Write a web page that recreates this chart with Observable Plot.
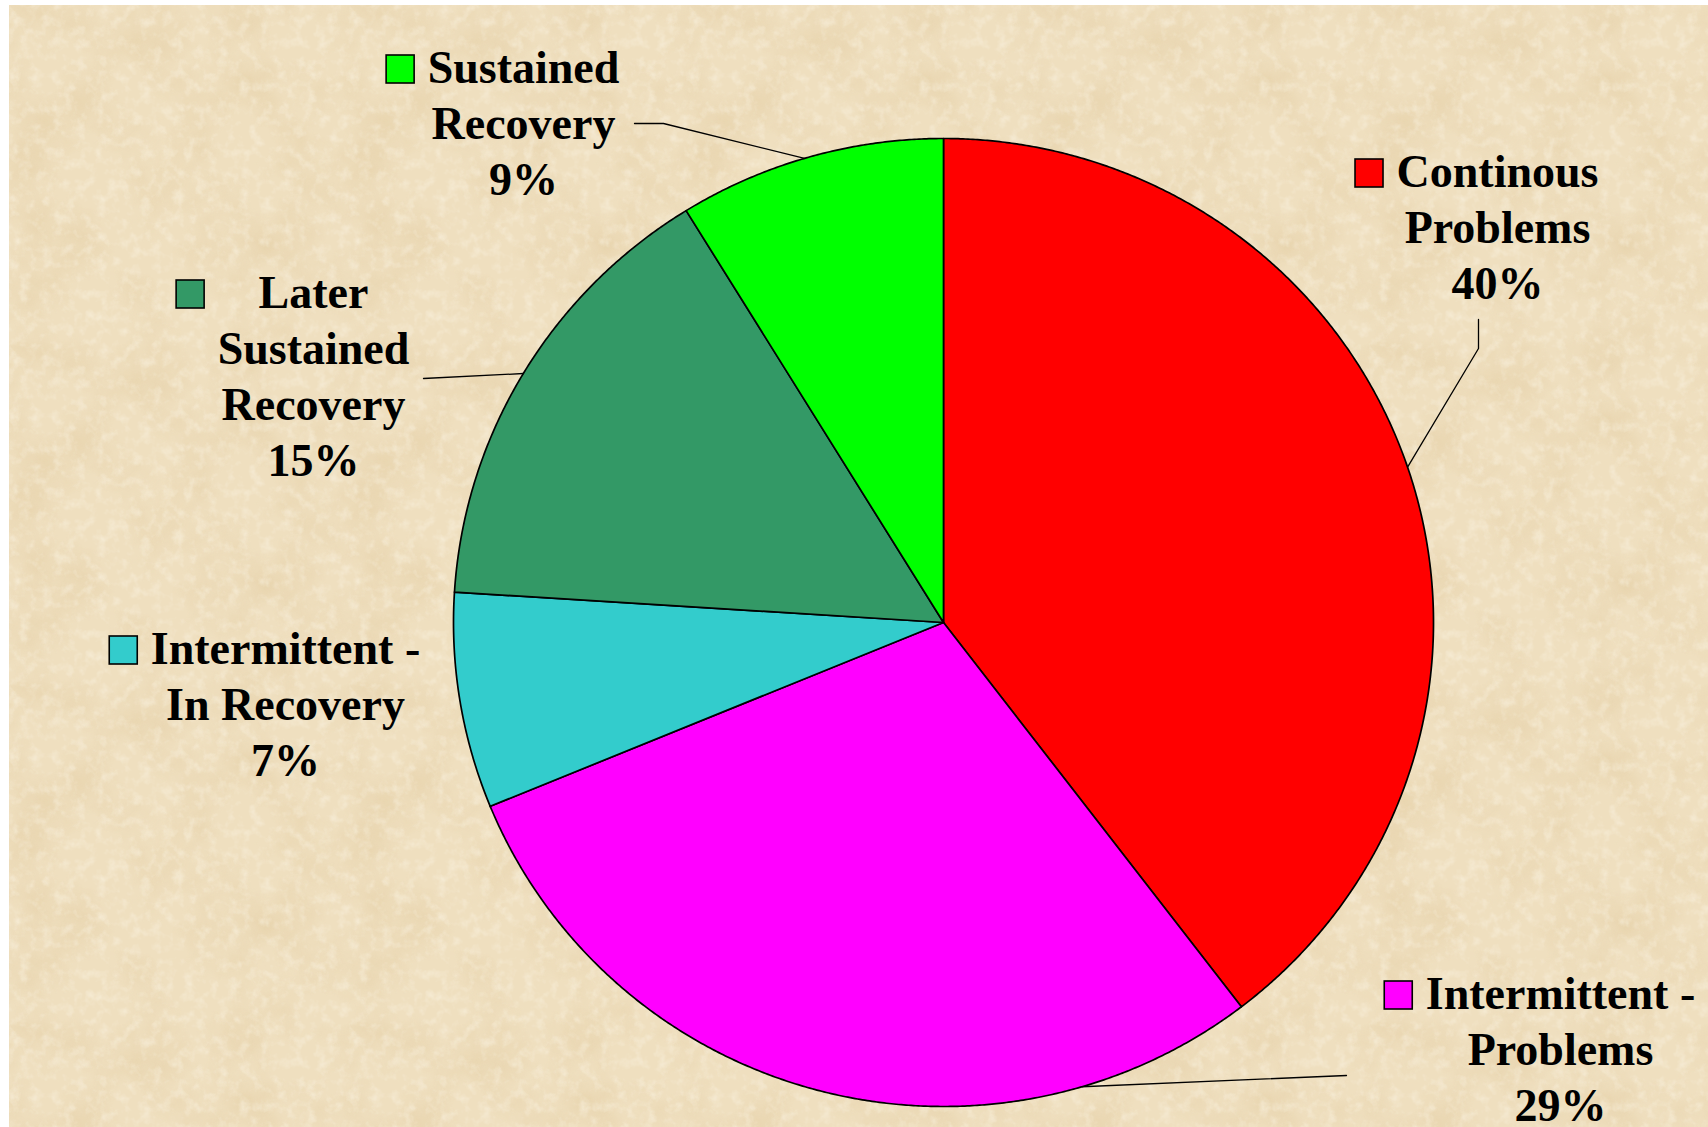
<!DOCTYPE html>
<html>
<head>
<meta charset="utf-8">
<script src="https://cdn.jsdelivr.net/npm/d3@7"></script>
<script src="https://cdn.jsdelivr.net/npm/@observablehq/plot@0.6"></script>
<style>
  html, body { margin: 0; padding: 0; background: #ffffff; }
  #wrap { position: relative; width: 1708px; height: 1127px; overflow: hidden; }
  #bg {
    position: absolute; left: 9px; top: 5px; right: 0; bottom: 0;
    background-color: #EFDFBF;
    background-image: url("data:image/svg+xml;utf8,<svg xmlns='http://www.w3.org/2000/svg' width='340' height='340'><filter id='n' x='0' y='0' width='100%' height='100%'><feTurbulence type='fractalNoise' baseFrequency='0.016' numOctaves='5' seed='7' stitchTiles='stitch'/><feColorMatrix type='matrix' values='0 0 0 0 0.80  0 0 0 0 0.65  0 0 0 0 0.41  2.4 0 0 0 -1.0'/></filter><filter id='m' x='0' y='0' width='100%' height='100%'><feTurbulence type='fractalNoise' baseFrequency='0.09' numOctaves='3' seed='3' stitchTiles='stitch'/><feColorMatrix type='matrix' values='0 0 0 0 1  0 0 0 0 0.97  0 0 0 0 0.88  2.0 0 0 0 -0.95'/></filter><rect width='100%' height='100%' filter='url(%23n)' opacity='0.8'/><rect width='100%' height='100%' filter='url(%23m)' opacity='0.45'/></svg>");
  }
  #chart { position: absolute; left: 0; top: 0; }
</style>
</head>
<body>
<div id="wrap"><div id="bg"></div><div id="chart"></div></div>
<script>
// ---- data ----
const categories = ["Continous Problems", "Intermittent - Problems", "Intermittent - In Recovery", "Later Sustained Recovery", "Sustained Recovery"];
const shares = [39.6, 29.2, 7.2, 15.2, 8.8];
const colors = ["#FF0000", "#FF00FF", "#33CCCC", "#339966", "#00FF00"];
const labelLines = [["Continous", "Problems"], ["Intermittent -", "Problems"], ["Intermittent -", "In Recovery"], ["Later", "Sustained", "Recovery"], ["Sustained", "Recovery"]];

// ---- layout (pixel space of the slide) ----
const W = 1708, H = 1127;
const pie = {cx: 943, cy: 622, rx: 490, ry: 484};
const fontSize = 46, lineStep = 56, keySize = 28, keyGap = 13;
const labelLayout = [
  {cx: 1497, baseline: 186, elbow: [[1478, 319], [1478, 348]], anchor: 0.5},
  {cx: 1560, baseline: 1008, elbow: [[1346, 1075]], anchor: 0.2},
  {cx: 285, baseline: 663, elbow: null, anchor: 0.5},
  {cx: 313, baseline: 307, elbow: [[423, 378]], anchor: 0.5},
  {cx: 523, baseline: 82, elbow: [[634, 123], [663, 123]], anchor: 0.48}
];

const font = `bold ${fontSize}px "Liberation Serif"`;
const ctx = document.createElement("canvas").getContext("2d");
ctx.font = font;

const arcs = d3.pie().sort(null).value(d => d)(shares);
const toXY = a => [pie.cx + pie.rx * Math.sin(a), pie.cy - pie.ry * Math.cos(a)];

// slice polygons
const slicePts = [];
arcs.forEach((a, i) => {
  const name = categories[i];
  slicePts.push({name, x: pie.cx, y: pie.cy});
  const n = Math.max(8, Math.ceil((a.endAngle - a.startAngle) / 0.005));
  for (let k = 0; k <= n; k++) {
    const t = a.startAngle + (a.endAngle - a.startAngle) * k / n;
    const [x, y] = toXY(t);
    slicePts.push({name, x, y});
  }
});

// leader lines
const leaderPts = [];
labelLayout.forEach((L, i) => {
  if (!L.elbow) return;
  const a = arcs[i];
  const t = a.startAngle + (a.endAngle - a.startAngle) * L.anchor;
  const [x, y] = toXY(t);
  L.elbow.forEach(([ex, ey]) => leaderPts.push({name: categories[i], x: ex, y: ey}));
  leaderPts.push({name: categories[i], x, y});
});

// labels and keys
const labels = labelLayout.map((L, i) => {
  const lines = [...labelLines[i], Math.round(shares[i]) + "%"];
  const maxW = d3.max(lines, s => ctx.measureText(s).width);
  return {
    name: categories[i],
    text: lines.join("\n"),
    x: L.cx,
    y: L.baseline - 0.71 * fontSize - 7,
    kx2: L.cx - maxW / 2 - keyGap,
    kx1: L.cx - maxW / 2 - keyGap - keySize,
    ky2: L.baseline + 1,
    ky1: L.baseline + 1 - keySize
  };
});

const chart = Plot.plot({
  width: W, height: H,
  margin: 0,
  style: {background: "transparent", fontFamily: '"Liberation Serif", "Times New Roman", serif'},
  x: {domain: [0, W], range: [0, W], axis: null},
  y: {domain: [0, H], range: [0, H], axis: null},
  color: {domain: categories, range: colors},
  marks: [
    Plot.line(slicePts, {x: "x", y: "y", z: "name", fill: "name", stroke: "#000", strokeWidth: 1.7, curve: "linear-closed", strokeLinejoin: "round"}),
    Plot.line(leaderPts, {x: "x", y: "y", z: "name", stroke: "#000", strokeWidth: 1.3}),
    Plot.rect(labels, {x1: "kx1", x2: "kx2", y1: "ky1", y2: "ky2", fill: "name", stroke: "#000", strokeWidth: 1.6}),
    Plot.text(labels, {x: "x", y: "y", text: "text", textAnchor: "middle", lineAnchor: "top", lineHeight: lineStep / fontSize, fontSize, fontWeight: "bold", fill: "#000"})
  ]
});
document.getElementById("chart").appendChild(chart);
</script>
</body>
</html>
